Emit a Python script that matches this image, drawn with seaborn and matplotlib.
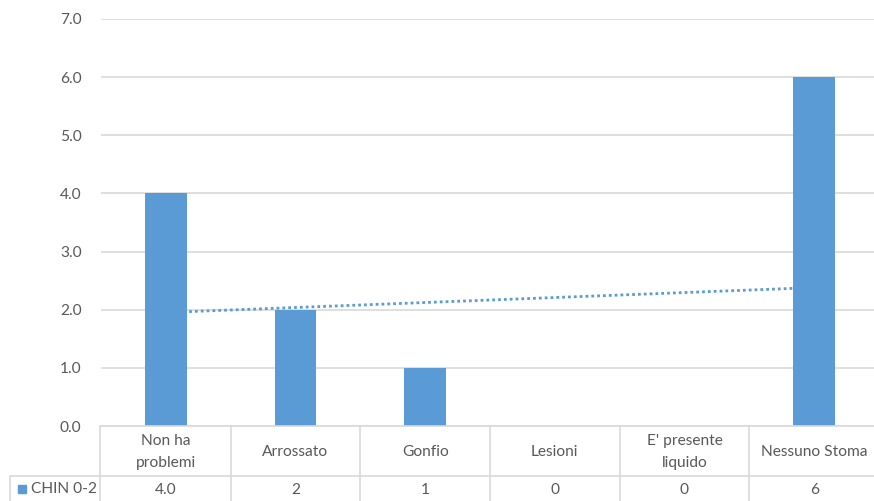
import numpy as np
import pandas as pd
import matplotlib
matplotlib.use("Agg")
import matplotlib.pyplot as plt
import seaborn as sns

categories = ["Non ha\nproblemi", "Arrossato", "Gonfio", "Lesioni", "E' presente\nliquido", "Nessuno Stoma"]
values = [4, 2, 1, 0, 0, 6]
value_labels = ["4.0", "2", "1", "0", "0", "6"]
series_name = "CHIN 0-2"
yticks = [0, 1, 2, 3, 4, 5, 6, 7]

BAR = "#5B9BD5"
GRID = "#D9D9D9"
TEXT = "#595959"
FS = 11.2

sns.set_theme(style="white")
plt.rcParams["font.family"] = ["Lato", "DejaVu Sans"]

W, H = 874, 501
fig = plt.figure(figsize=(W / 100, H / 100), dpi=100)

# plot area in pixel coordinates
x0, x1 = 101, 879
y_top, y_base = 19, 426
ax = fig.add_axes([x0 / W, 1 - y_base / H, (x1 - x0) / W, (y_base - y_top) / H])

df = pd.DataFrame({"cat": categories, "val": values})
sns.barplot(data=df, x="cat", y="val", color=BAR, width=0.32, saturation=1,
            edgecolor="none", ax=ax, zorder=2)

# linear trend line across the categories
xs = np.arange(len(values))
slope, intercept = np.polyfit(xs, values, 1)
ax.plot(xs, slope * xs + intercept, linestyle=(0, (1, 1.1)), color=BAR,
        linewidth=2.0, zorder=1)

ax.set_ylim(0, 7)
ax.set_xlim(-0.5, len(categories) - 0.5)
ax.set_yticks(yticks)
ax.set_yticklabels([f"{t:.1f}" for t in yticks], color=TEXT, fontsize=FS)
ax.tick_params(axis="y", length=0, pad=14)
ax.set_xticks([])
ax.set_xlabel("")
ax.set_ylabel("")
ax.grid(axis="y", color=GRID, linewidth=1.2)
ax.set_axisbelow(True)
for s in ax.spines.values():
    s.set_visible(False)

# data table below the plot
def fx(px):
    return px / W

def fy(py):
    return 1 - py / H

row_mid = 476
col_w = (x1 - x0) / len(categories)
line_kw = dict(color=GRID, linewidth=1.2, transform=fig.transFigure)
fig.add_artist(plt.Line2D([fx(100), fx(x1)], [fy(y_base), fy(y_base)], **line_kw))
fig.add_artist(plt.Line2D([fx(10), fx(x1)], [fy(row_mid), fy(row_mid)], **line_kw))
fig.add_artist(plt.Line2D([fx(10), fx(10)], [fy(row_mid), fy(H + 2)], **line_kw))
fig.add_artist(plt.Line2D([fx(100), fx(100)], [fy(y_base), fy(H + 2)], **line_kw))
for i in range(1, len(categories)):
    xe = x0 + i * col_w
    fig.add_artist(plt.Line2D([fx(xe), fx(xe)], [fy(y_base), fy(H + 2)], **line_kw))

for i, (cat, lab) in enumerate(zip(categories, value_labels)):
    xc = x0 + (i + 0.5) * col_w
    fig.text(fx(xc), fy((y_base + row_mid) / 2 + 1), cat, ha="center", va="center",
             color=TEXT, fontsize=FS, linespacing=1.7)
    fig.text(fx(xc), fy((row_mid + H) / 2 + 1), lab, ha="center", va="center",
             color=TEXT, fontsize=FS)

# series key in the table's first column
fig.add_artist(plt.Rectangle((fx(18), fy(493)), 8 / W, 8 / H, color=BAR,
                             transform=fig.transFigure))
fig.text(fx(31), fy(489), series_name, ha="left", va="center", color=TEXT, fontsize=FS)

fig.savefig("out.png", dpi=100)
